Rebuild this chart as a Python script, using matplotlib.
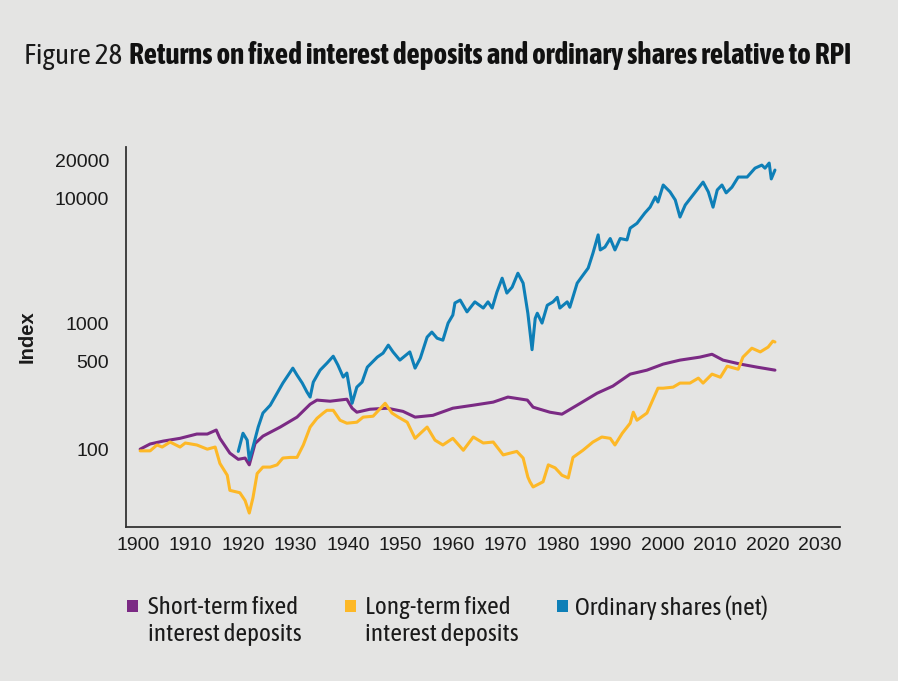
import matplotlib.pyplot as plt
from matplotlib import font_manager, patheffects
from matplotlib.patches import Rectangle

# Index values (log scale, 1900 = 100)
short_years = [1900.4, 1902.3, 1904.8, 1908.0, 1911.2, 1913.2, 1914.9, 1915.6, 1917.5, 1919.1,
               1920.4, 1921.2, 1922.3, 1923.8, 1927.1, 1930.3, 1932.8, 1934.1, 1936.6, 1939.8,
               1940.8, 1941.7, 1944.2, 1947.5, 1950.5, 1952.8, 1956.2, 1960.0, 1963.9, 1967.7,
               1970.5, 1974.2, 1975.3, 1976.6, 1978.5, 1980.8, 1984.3, 1987.5, 1990.5, 1993.8,
               1997.0, 2000.1, 2003.3, 2007.1, 2009.4, 2011.5, 2014.8, 2018.0, 2021.4]
short_index = [100, 110, 116, 122, 132, 132, 142, 122, 93, 83,
               85, 75, 111, 127, 150, 180, 228, 246, 241, 250,
               212, 197, 208, 212, 200, 180, 186, 212, 224, 237,
               260, 246, 216, 208, 197, 190, 232, 279, 318, 396,
               426, 476, 512, 541, 570, 512, 476, 450, 426]

long_years = [1900.4, 1902.3, 1903.6, 1904.6, 1906.1, 1908.0, 1909.0, 1911.2, 1913.2, 1914.7,
              1915.6, 1917.0, 1917.5, 1919.4, 1920.4, 1921.2, 1921.9, 1922.7, 1923.8, 1925.2,
              1926.5, 1927.6, 1929.0, 1930.3, 1931.5, 1932.8, 1934.1, 1935.3, 1936.0, 1937.2,
              1938.5, 1939.8, 1941.7, 1942.9, 1944.8, 1947.1, 1948.4, 1949.6, 1951.3, 1952.8,
              1955.1, 1956.6, 1958.1, 1960.0, 1962.0, 1963.9, 1965.8, 1967.7, 1969.6, 1970.9,
              1972.2, 1973.4, 1974.3, 1974.7, 1975.3, 1977.2, 1978.2, 1979.5, 1980.8, 1982.0,
              1982.9, 1984.8, 1986.7, 1988.4, 1990.0, 1990.9, 1992.3, 1993.8, 1994.4, 1995.1,
              1997.0, 1999.1, 2000.1, 2002.0, 2003.3, 2005.2, 2006.8, 2007.7, 2009.4, 2011.0,
              2012.3, 2014.4, 2015.3, 2017.0, 2018.6, 2020.1, 2021.0, 2021.4]
long_index = [97, 97, 108, 104, 114, 104, 112, 108, 100, 104,
              77, 62, 47, 45, 39, 31, 41, 64, 72, 72,
              75, 85, 86, 86, 108, 150, 176, 194, 204, 204,
              170, 161, 164, 180, 183, 232, 194, 180, 164, 122,
              150, 118, 108, 122, 98, 125, 112, 114, 90, 93,
              96, 85, 60, 55, 50, 55, 75, 71, 62, 59,
              86, 98, 114, 125, 122, 108, 134, 161, 197, 170,
              194, 306, 306, 312, 336, 336, 368, 336, 396, 374,
              458, 433, 541, 637, 595, 650, 725, 714]

shares_years = [1919.1, 1920.0, 1920.8, 1921.2, 1921.9, 1922.9, 1923.8, 1925.2, 1926.5, 1927.6,
                1929.0, 1929.5, 1930.3, 1931.3, 1932.2, 1932.8, 1933.4, 1934.7, 1936.0, 1937.2,
                1938.1, 1939.1, 1939.8, 1940.8, 1941.7, 1942.7, 1943.7, 1945.6, 1946.7, 1947.7,
                1948.6, 1949.9, 1951.8, 1952.8, 1953.8, 1955.1, 1956.0, 1957.0, 1958.1, 1959.1,
                1960.0, 1960.4, 1961.4, 1962.7, 1964.2, 1965.8, 1966.7, 1967.5, 1968.4, 1969.4,
                1970.3, 1971.3, 1972.4, 1973.4, 1974.3, 1975.1, 1975.7, 1976.1, 1977.0, 1978.0,
                1979.1, 1979.9, 1980.4, 1981.8, 1982.3, 1983.7, 1984.8, 1985.8, 1986.7, 1987.7,
                1988.1, 1989.0, 1990.0, 1990.9, 1991.9, 1993.2, 1993.8, 1995.1, 1996.6, 1997.6,
                1998.6, 1999.1, 2000.1, 2001.4, 2002.4, 2003.3, 2004.3, 2005.8, 2007.7, 2008.7,
                2009.6, 2010.4, 2011.3, 2012.1, 2013.2, 2014.4, 2016.1, 2017.6, 2018.9, 2019.5,
                2020.3, 2020.7, 2021.4]
shares_index = [96, 134, 118, 82, 104, 150, 194, 224, 279, 336,
                411, 442, 389, 336, 285, 260, 342, 426, 484, 550,
                467, 375, 404, 232, 312, 342, 450, 541, 582, 674,
                595, 512, 595, 442, 530, 781, 856, 765, 738, 1010,
                1170, 1460, 1540, 1240, 1490, 1330, 1490, 1330, 1780, 2300,
                1750, 1950, 2520, 2100, 1210, 620, 1100, 1210, 1010, 1400,
                1490, 1620, 1330, 1490, 1350, 2100, 2430, 2770, 3630, 5090,
                3860, 4070, 4760, 3860, 4760, 4640, 5760, 6290, 7600, 8460,
                10200, 9300, 12700, 11200, 9650, 7060, 8800, 10600, 13400, 11200,
                8460, 11600, 12700, 11000, 12200, 14700, 14700, 17300, 18300, 17300,
                19000, 14200, 16700]

labels = ['Short-term fixed\ninterest deposits', 'Long-term fixed\ninterest deposits',
          'Ordinary shares (net)']
colors = ['#7b2a84', '#fdb827', '#0e7fb7']
y_ticks = [100, 500, 1000, 10000, 20000]
x_ticks = list(range(1900, 2031, 10))

W, H = 898, 681
bg = '#e4e4e3'


def weight_of(f):
    if isinstance(f.weight, str):
        return font_manager.weight_dict.get(f.weight, 400)
    return f.weight


def condensed_font():
    # the reference uses a condensed grotesque; take an upright one if installed,
    # preferring a family that also ships an upright bold cut
    found = {}
    for f in font_manager.fontManager.ttflist:
        if 'Mono' in f.name or 'Serif' in f.name or f.style != 'normal':
            continue
        if 'Narrow' in f.name or 'Condensed' in f.name:
            key = (f.name, None)
        elif f.stretch not in ('normal', 400, 500):
            key = (f.name, f.stretch)
        else:
            continue
        found.setdefault(key, set()).add(weight_of(f))
    usable = {k: v for k, v in found.items() if any(350 <= w <= 500 for w in v)}
    if not usable:
        return {'family': 'Liberation Sans'}, True
    ranked = sorted(usable.items(),
                    key=lambda kv: (not any(600 <= w <= 800 for w in kv[1]), kv[0][0]))
    (name, stretch), weights = ranked[0]
    props = {'family': name}
    if stretch is not None:
        props['stretch'] = stretch
    return props, any(600 <= w <= 800 for w in weights)


narrow, has_bold = condensed_font()
plt.rcParams['font.family'] = ['Liberation Sans', 'DejaVu Sans']

fig = plt.figure(figsize=(W / 100, H / 100), dpi=100, facecolor=bg)
ax = fig.add_axes([126 / W, 1 - 527 / H, 714 / W, 380 / H], facecolor=bg)

series = [(short_years, short_index), (long_years, long_index), (shares_years, shares_index)]
for (x, y), c in zip(series, colors):
    ax.plot(x, y, color=c, lw=2.2, solid_joinstyle='round', solid_capstyle='round')

ax.set_yscale('log')
ax.set_ylim(24, 25500)
ax.set_xlim(1897.7, 2033.8)
ax.set_yticks(y_ticks)
ax.set_yticklabels([str(v) for v in y_ticks])
ax.yaxis.set_minor_locator(plt.NullLocator())
ax.set_xticks(x_ticks)
ax.tick_params(axis='both', length=0, labelsize=14, colors='#1a1a1a')
ax.tick_params(axis='x', pad=7)
ax.tick_params(axis='y', pad=12)

for side in ['top', 'right']:
    ax.spines[side].set_visible(False)
for side in ['left', 'bottom']:
    ax.spines[side].set_color('#333333')
    ax.spines[side].set_linewidth(1.3)

ax.set_ylabel('Index', fontsize=14.5, fontweight='bold', color='#1a1a1a')
ax.yaxis.set_label_coords((37 - 126) / 714, 0.5)

# Title: light "Figure 28" followed by bold text, fitted to the reference width
renderer = fig.canvas.get_renderer()
title_y = 1 - 64 / H
t1 = fig.text(24 / W, title_y, 'Figure 28', fontsize=17, va='baseline',
              color='#1a1a1a', **narrow)
t2 = fig.text(0, title_y, 'Returns on fixed interest deposits and ordinary shares relative to RPI',
              fontsize=17, fontweight='bold', va='baseline', color='#111111', **narrow)
if not has_bold:
    # no upright bold condensed cut installed: thicken the strokes instead
    t2.set_path_effects([patheffects.withStroke(linewidth=1.2, foreground='#111111')])


def place_title(size):
    t1.set_fontsize(size)
    t2.set_fontsize(size)
    b1 = t1.get_window_extent(renderer)
    t2.set_x((b1.x1 + 0.3 * size) / W)
    return t2.get_window_extent(renderer).x1


end = place_title(17)
place_title(min(24, 17 * (853 - 24) / (end - 24)))

# Legend under the plot: coloured squares with two-line labels
box_x = [127, 345, 557]
text_x = [148, 365, 575]
legend_texts = []
for bx, tx, c, lab in zip(box_x, text_x, colors, labels):
    fig.add_artist(Rectangle((bx / W, 1 - 612 / H), 11 / W, 12 / H,
                             transform=fig.transFigure, facecolor=c, edgecolor='none'))
    legend_texts.append(fig.text(tx / W, 1 - 596 / H, lab, fontsize=16, va='top',
                                 linespacing=1.25, color='#1a1a1a', **narrow))

# scale the legend font so the first label matches its width in the reference
probe = fig.text(0, 0, 'Short-term fixed', fontsize=16, **narrow)
w = probe.get_window_extent(renderer).width
probe.remove()
for t in legend_texts:
    t.set_fontsize(min(19, 16 * 150 / w))

plt.savefig('out.png', dpi=100, facecolor=bg)
